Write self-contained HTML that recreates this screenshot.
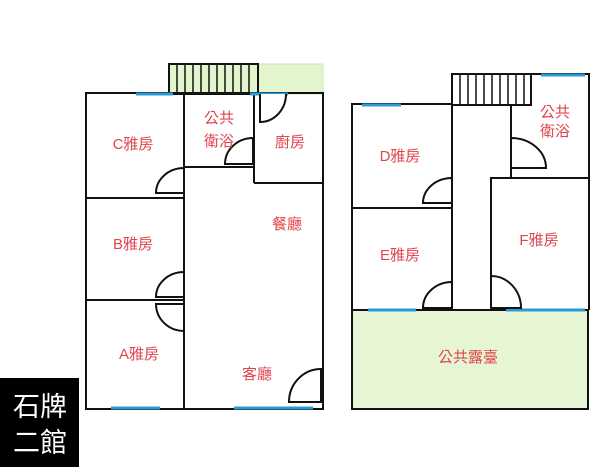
<!DOCTYPE html>
<html><head><meta charset="utf-8"><style>
body{margin:0;background:#fff;width:616px;height:467px;overflow:hidden}
svg{display:block}
.t{font-family:"Liberation Sans","Noto Sans CJK TC",sans-serif;font-size:15px;fill:#e0444c;text-anchor:middle}
.w{stroke:#111;stroke-width:2;fill:none}
.d{stroke:#111;stroke-width:2;fill:#fff}
.b{stroke:#2a9ad6;stroke-width:3}
</style></head><body>
<svg width="616" height="467" viewBox="0 0 616 467">
<rect x="169" y="64" width="154" height="30" fill="#e2f5cc" stroke="#cde6b0"/>
<rect x="169" y="64" width="89" height="30" class="w" stroke-width="1.5"/>
<g stroke="#111" stroke-width="1.5">
<line x1="177" y1="64" x2="177" y2="94"/><line x1="185" y1="64" x2="185" y2="94"/><line x1="193" y1="64" x2="193" y2="94"/><line x1="201" y1="64" x2="201" y2="94"/><line x1="209" y1="64" x2="209" y2="94"/><line x1="217" y1="64" x2="217" y2="94"/><line x1="225" y1="64" x2="225" y2="94"/><line x1="233" y1="64" x2="233" y2="94"/><line x1="241" y1="64" x2="241" y2="94"/><line x1="249" y1="64" x2="249" y2="94"/>
</g>
<rect x="86" y="93" width="237" height="316" class="w"/>
<line x1="184" y1="93" x2="184" y2="409" class="w"/>
<line x1="254" y1="93" x2="254" y2="183" class="w"/>
<line x1="184" y1="167" x2="254" y2="167" class="w"/>
<line x1="254" y1="183" x2="323" y2="183" class="w"/>
<line x1="86" y1="198" x2="184" y2="198" class="w"/>
<line x1="86" y1="300" x2="184" y2="300" class="w"/>
<line x1="136" y1="94" x2="173" y2="94" class="b"/>
<line x1="250" y1="94" x2="288" y2="94" class="b"/>
<line x1="111" y1="408" x2="160" y2="408" class="b"/>
<line x1="234" y1="408" x2="313" y2="408" class="b"/>
<path d="M184,193 L156,193 A28,25 0 0 1 184,168 Z" class="d"/>
<path d="M253,164 L225,164 A28,26 0 0 1 253,138 Z" class="d"/>
<path d="M260,94 L260,122 A26,28 0 0 0 286,94" class="d"/>
<path d="M184,297 L156,297 A28,25 0 0 1 184,272 Z" class="d"/>
<path d="M184,304 L156,304 A28,27 0 0 0 184,331 Z" class="d"/>
<path d="M321,402 L289,402 A32,33 0 0 1 321,369 Z" class="d"/>
<text class="t" x="133" y="149">C雅房</text>
<text class="t" x="219" y="123">公共</text>
<text class="t" x="219" y="146">衛浴</text>
<text class="t" x="290" y="147">廚房</text>
<text class="t" x="287" y="229">餐廳</text>
<text class="t" x="133" y="249">B雅房</text>
<text class="t" x="139" y="359">A雅房</text>
<text class="t" x="257" y="379">客廳</text>
<rect x="352" y="310" width="236" height="99" fill="#e6f6d4" stroke="#111" stroke-width="2"/>
<rect x="452" y="74" width="79" height="31" class="w" stroke-width="1.5"/>
<g stroke="#111" stroke-width="1.5">
<line x1="460" y1="74" x2="460" y2="105"/><line x1="468" y1="74" x2="468" y2="105"/><line x1="476" y1="74" x2="476" y2="105"/><line x1="484" y1="74" x2="484" y2="105"/><line x1="492" y1="74" x2="492" y2="105"/><line x1="500" y1="74" x2="500" y2="105"/><line x1="508" y1="74" x2="508" y2="105"/><line x1="516" y1="74" x2="516" y2="105"/><line x1="524" y1="74" x2="524" y2="105"/>
</g>
<path d="M352,310 L352,104 L452,104 M452,74 L589,74 L589,310 M452,74 L452,310 M452,105 L531,105 M511,105 L511,178 M491,310 L491,178 L589,178 M352,208 L452,208" class="w"/>
<line x1="362" y1="105" x2="401" y2="105" class="b"/>
<line x1="541" y1="75" x2="585" y2="75" class="b"/>
<line x1="368" y1="310" x2="416" y2="310" class="b"/>
<line x1="506" y1="310" x2="585" y2="310" class="b"/>
<path d="M511,168 L511,138 A35,30 0 0 1 546,168 Z" class="d"/>
<path d="M452,203 L423,203 A29,25 0 0 1 452,178 Z" class="d"/>
<path d="M452,308 L423,308 A29,26 0 0 1 452,282 Z" class="d"/>
<path d="M491,308 L491,276 A30,32 0 0 1 521,308 Z" class="d"/>
<text class="t" x="400" y="161">D雅房</text>
<text class="t" x="400" y="260">E雅房</text>
<text class="t" x="539" y="245">F雅房</text>
<text class="t" x="555" y="117">公共</text>
<text class="t" x="555" y="136">衛浴</text>
<text class="t" x="468" y="362">公共露臺</text>
<rect x="0" y="378" width="79" height="89" fill="#000"/>
<text x="40" y="416" font-family="Liberation Sans,'Noto Sans CJK TC',sans-serif" font-size="27" fill="#fff" text-anchor="middle">石牌</text>
<text x="40" y="452" font-family="Liberation Sans,'Noto Sans CJK TC',sans-serif" font-size="27" fill="#fff" text-anchor="middle">二館</text>
</svg>
</body></html>
